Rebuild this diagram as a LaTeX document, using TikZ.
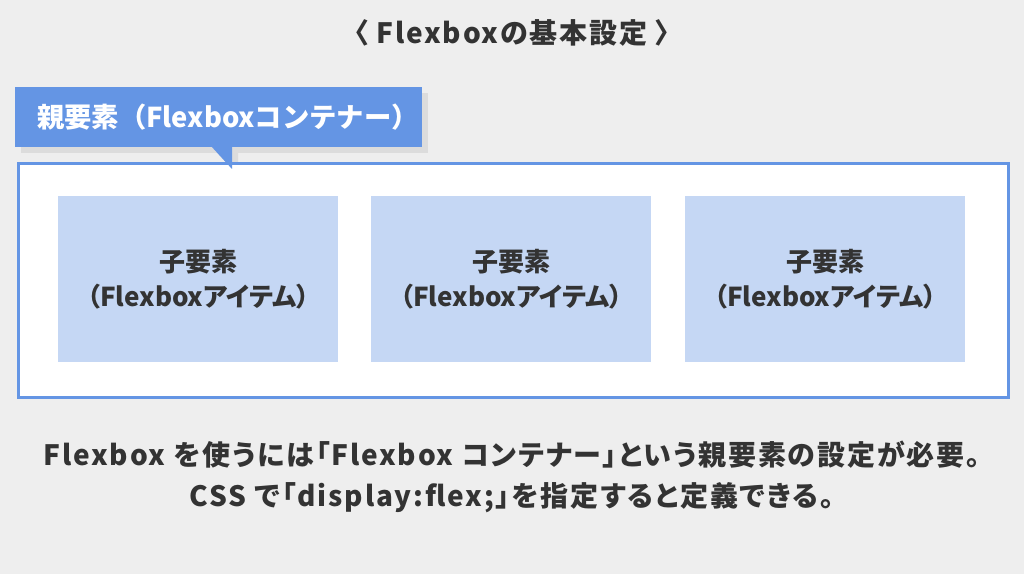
\documentclass[tikz,border=0pt]{standalone}
\usepackage{fontspec}
\setmainfont{Noto Sans CJK JP}
\newfontfamily\paltA{Noto Sans CJK JP}[RawFeature=+palt, LetterSpace=6.5]
\newfontfamily\paltB{Noto Sans CJK JP}[RawFeature=+palt]
\newfontfamily\paltC{Noto Sans CJK JP}[RawFeature=+palt, LetterSpace=6.5]
\definecolor{bg}{HTML}{EEEEEE}
\definecolor{blu}{HTML}{6495E4}
\definecolor{lblu}{HTML}{C5D7F4}
\definecolor{txt}{HTML}{333333}
\definecolor{shd}{HTML}{DCDCDC}
\begin{document}
\begin{tikzpicture}[x=0.75pt,y=-0.75pt,
  every node/.style={font=\bfseries, text=txt, inner sep=0pt},
  child/.style={fill=lblu, minimum width=210pt, minimum height=124.5pt, align=center, font=\paltB\bfseries\fontsize{19.5}{26.5}\selectfont},
  caption/.style={font=\paltA\bfseries\fontsize{21}{24}\selectfont}]
\fill[bg] (0,0) rectangle (1024,574);
\useasboundingbox (0,0) rectangle (1024,574);
% title
\node[font=\paltC\bfseries\fontsize{21}{24}\selectfont] (title) at (512,33) {〈 Flexboxの基本設定 〉};
% label shadow
\fill[shd] (21,93) rectangle (428,153);
\fill[shd] (217,153) -- (238,153) -- (238,174) -- cycle;
% container
\node[draw=blu, line width=2.25pt, fill=white, minimum width=742.5pt, minimum height=175pt, anchor=north west] (cont) at (16.5,162.5) {};
% label
\node[fill=blu, minimum width=305pt, minimum height=45pt, anchor=north west] (lab) at (15,87) {};
\node[text=white, font=\bfseries\fontsize{20.5}{24}\selectfont] (labtxt) at (228,117) {親要素（Flexboxコンテナー）};
\fill[blu] (211,146) -- (232,146) -- (232,169) -- cycle;
% children
\node[child, anchor=north west] (c1) at (58,196) {子要素\\（Flexboxアイテム）};
\node[child, anchor=north west] (c2) at (371,196) {子要素\\（Flexboxアイテム）};
\node[child, anchor=north west] (c3) at (685,196) {子要素\\（Flexboxアイテム）};
% bottom text
\node[caption] (t1) at (512,455) {Flexbox を使うには「Flexbox コンテナー」という親要素の設定が必要。};
\node[caption] (t2) at (512,498) {CSS で「display:flex;」を指定すると定義できる。};
\end{tikzpicture}
\end{document}
